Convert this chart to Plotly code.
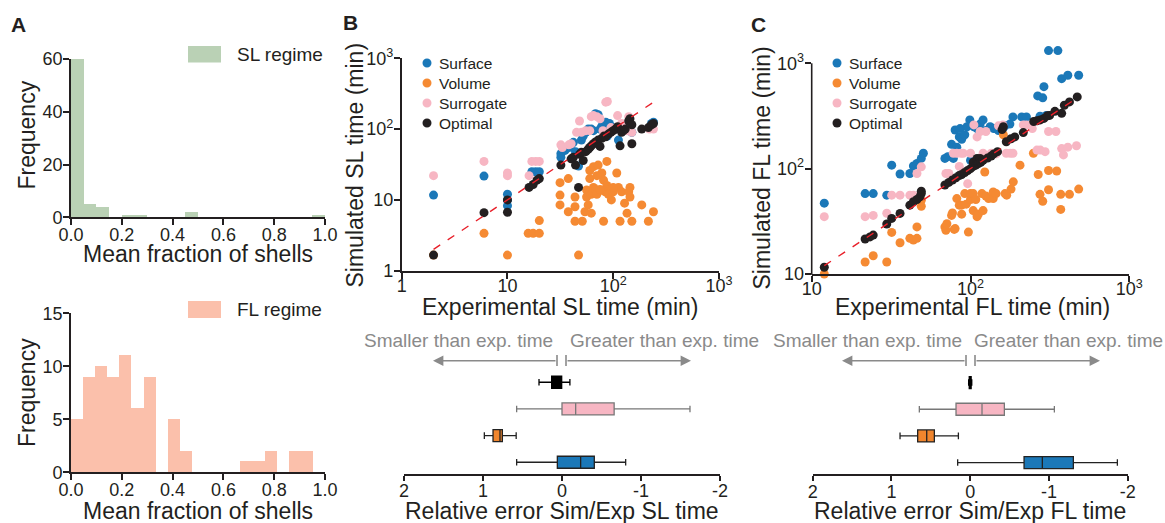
import plotly.graph_objects as go

W, H = 1165, 523
def px(x): return x / W
def py(y): return 1 - y / H

FONT = "Liberation Sans, Arial, Helvetica, sans-serif"
INK = "#231f20"
GREY = "#8a8a8a"
C_SURF = "#1b78b8"
C_VOL = "#f58a33"
C_SURR = "#f7b6c3"
C_OPT = "#231f20"
C_SL = "#bad1b5"
C_FL = "#fbc0ab"

# ---------------- Panel A data (histograms) ----------------
sl_bin_edges = [0.00, 0.05, 0.10, 0.15, 0.20, 0.25, 0.30, 0.35, 0.40, 0.45, 0.50,
                0.55, 0.60, 0.65, 0.70, 0.75, 0.80, 0.85, 0.90, 0.95, 1.00]
sl_counts = [60, 5, 4, 0, 1, 1, 0, 0, 0, 2, 0, 0, 0, 0, 0, 0, 0, 0, 0, 1]
fl_bin_edges = [0.000, 0.048, 0.095, 0.143, 0.190, 0.238, 0.286, 0.333, 0.381, 0.429, 0.476,
                0.524, 0.571, 0.619, 0.667, 0.714, 0.762, 0.810, 0.857, 0.905, 0.952]
fl_counts = [5, 9, 10, 9, 11, 6, 9, 0, 5, 2, 0, 0, 0, 0, 1, 1, 2, 0, 2, 2]

# ---------------- Panel B data (SL times, min) ----------------
sl_surface = [(2, 11.7), (6, 21.7), (10, 12), (10, 10), (10, 8.3), (17, 25), (18.5, 25), (20, 25),
              (32, 45), (32, 40), (35, 50), (38, 55), (40, 60), (42, 65), (44, 48), (47, 30),
              (50, 70), (52, 80), (55, 90), (58, 100), (62, 100), (65, 95), (68, 165), (72, 160),
              (75, 100), (78, 110), (82, 100), (85, 125), (88, 80), (92, 120), (98, 105), (105, 100),
              (112, 70), (120, 110), (135, 100), (140, 115), (150, 90), (230, 120), (240, 125)]
sl_volume = [(2, 1.66), (6, 3.37), (10, 1.66), (15.7, 3.37), (17.5, 3.37), (20, 3.37), (20, 5.1),
             (31.4, 17.5), (31.4, 11.7), (31.4, 8.5), (37.6, 20), (37.6, 6.8), (43.5, 11), (43.5, 8),
             (43.5, 5), (47, 1.66), (51, 5), (54, 6.8), (56, 11), (56, 13.8), (60, 26), (65, 29.5),
             (65, 15), (72, 31), (72, 13), (78, 24), (81, 19), (81, 5), (84, 13), (87, 35), (87, 16),
             (93, 14), (96, 10), (108, 24), (112, 15), (116, 5), (128, 9), (135, 6.5), (144, 15),
             (144, 11), (150, 5), (186, 8.5), (215, 5), (240, 6.8), (62, 12), (68, 14), (70, 12),
             (75, 14), (90, 12), (100, 13), (60, 20), (70, 22), (58, 8.5), (62, 6.5), (120, 13),
             (140, 13), (100, 15)]
sl_surrogate = [(2, 22), (6, 35), (10, 22), (10, 24), (16, 22), (17, 35), (18.5, 35), (20, 35),
                (32, 60), (33, 55), (38, 60), (40, 62), (45, 90), (48, 130), (50, 90), (55, 95),
                (60, 95), (62, 150), (65, 155), (70, 150), (75, 140), (80, 95), (85, 240), (88, 245),
                (95, 105), (105, 100), (110, 155), (120, 120), (135, 95), (140, 150), (150, 90),
                (220, 100), (230, 105), (240, 100)]
sl_optimal = [(2, 1.66), (6, 6.6), (10, 10), (10, 6.7), (16, 15), (17.5, 16.5), (19, 19), (20, 20),
              (32, 31), (40, 38), (42, 40), (44, 31), (47, 15), (48, 44), (50, 47), (52, 36),
              (55, 48), (58, 52), (60, 55), (62, 58), (65, 62), (68, 66), (72, 70), (75, 57),
              (78, 74), (82, 80), (85, 78), (90, 85), (95, 90), (100, 95), (105, 100), (110, 108),
              (116, 58), (120, 90), (125, 95), (130, 100), (140, 130), (144, 140), (150, 62),
              (150, 115), (186, 100), (215, 105), (230, 115), (240, 120)]
sl_identity = [2, 240]

# ---------------- Panel C data (FL times, min) ----------------
fl_surface = [(12, 47), (21.7, 58), (24.4, 58), (29.7, 56), (31.9, 108), (36, 89), (41.5, 90),
              (43.7, 106), (46, 112), (49, 125), (50.5, 140), (69, 125), (72, 130), (76, 170),
              (78, 125), (80, 233), (82, 160), (85, 200), (86, 240), (88, 190), (92, 210), (95, 250),
              (99, 290), (100, 120), (105, 250), (110, 240), (115, 265), (120, 290), (125, 230),
              (133, 250), (140, 240), (145, 240), (150, 230), (160, 240), (165, 255), (177, 265),
              (185, 310), (210, 310), (225, 310), (265, 490), (274, 315), (285, 470), (290, 600),
              (300, 320), (310, 1320), (355, 1320), (375, 715), (410, 770), (480, 770)]
fl_volume = [(12, 10), (21.7, 13), (24.4, 14.9), (29.7, 13), (31.9, 24.8), (36, 19.8), (41.5, 21.8),
             (43.7, 21), (46, 21.8), (46, 28), (49, 50), (49, 44), (69, 28), (70, 26), (71, 30),
             (76, 36), (77, 38), (79, 26.5), (80, 27), (82, 52), (85, 45), (88, 37), (88, 45),
             (92, 58), (94, 46), (97, 25), (100, 51), (100, 58), (104, 40), (104, 58), (108, 51),
             (110, 35), (110, 37), (112, 37), (118, 58), (120, 40), (123, 93), (125, 55), (130, 52),
             (139, 60), (139, 52), (145, 58), (161, 210), (165, 58), (169, 56), (180, 64), (186, 75),
             (205, 108), (249, 140), (267, 88), (274, 57), (285, 49), (310, 96), (310, 63), (349, 95),
             (370, 57), (370, 41), (420, 57), (480, 64)]
fl_surrogate = [(12, 35), (21.7, 35), (24.4, 36), (29.7, 37.7), (31.9, 56), (36, 56), (41.5, 56),
                (43.7, 56), (46, 90), (49, 104), (70, 90), (73, 90), (78, 140), (82, 140), (85, 105),
                (87, 140), (90, 140), (96, 72), (100, 140), (105, 260), (110, 200), (115, 225),
                (120, 140), (125, 225), (135, 140), (145, 138), (150, 255), (160, 260), (168, 140),
                (178, 140), (185, 140), (215, 260), (225, 260), (245, 240), (262, 150), (275, 150),
                (295, 145), (310, 225), (345, 225), (375, 155), (385, 135), (410, 160), (465, 165)]
fl_optimal = [(12, 11.6), (21.7, 21.5), (23.3, 22.5), (24.4, 23.4), (29.7, 29.8), (31.9, 33.7),
              (36, 37.6), (41.5, 45), (43.7, 48.5), (46, 51), (48, 54), (49, 58), (49, 61), (69, 70),
              (73, 74), (77, 78), (81, 82), (85, 86), (88, 88), (92, 92), (96, 96), (100, 100),
              (104, 115), (104, 105), (108, 108), (110, 125), (112, 112), (115, 125), (116, 115),
              (120, 120), (128, 126), (135, 132), (140, 138), (148, 145), (158, 235), (161, 250),
              (168, 180), (180, 192), (190, 200), (215, 220), (250, 280), (262, 285), (275, 290),
              (290, 300), (305, 318), (315, 320), (340, 350), (375, 335), (390, 400), (420, 430),
              (470, 480)]
fl_identity = [12, 480]

# ---------------- Box plot stats (relative error) ----------------
box_names = ["Optimal", "Surrogate", "Volume", "Surface"]
box_rows = [4, 3, 2, 1]
sl_lower = [-0.10, -1.62, 0.58, -0.806]
sl_q1 = [0.004, -0.66, 0.755, -0.409]
sl_med = [0.07, -0.173, 0.785, -0.236]
sl_q3 = [0.131, 0.0, 0.873, 0.059]
sl_upper = [0.291, 0.574, 0.983, 0.574]
fl_lower = [-0.02, -1.069, 0.150, -1.869]
fl_q1 = [-0.012, -0.434, 0.455, -1.31]
fl_med = [0.0, -0.150, 0.552, -0.916]
fl_q3 = [0.012, 0.18, 0.667, -0.684]
fl_upper = [0.02, 0.646, 0.891, 0.159]
box_fill = ["#000000", "#f7b6c3", "#f0852d", "#1b78b8"]
box_edge = ["#000000", "#777777", "#222222", "#222222"]

err_ticks = [2, 1, 0, -1, -2]
err_ticktext = ["2", "1", "0", "-1", "-2"]

fig = go.Figure()

def bar_geom(edges):
    centers = [(a + b) / 2 for a, b in zip(edges[:-1], edges[1:])]
    widths = [b - a for a, b in zip(edges[:-1], edges[1:])]
    return centers, widths

c, w = bar_geom(sl_bin_edges)
fig.add_trace(go.Bar(x=c, y=sl_counts, width=w, marker=dict(color=C_SL, line=dict(width=0)),
                     xaxis="x", yaxis="y", showlegend=False, name="SL regime"))
c, w = bar_geom(fl_bin_edges)
fig.add_trace(go.Bar(x=c, y=fl_counts, width=w, marker=dict(color=C_FL, line=dict(width=0)),
                     xaxis="x2", yaxis="y2", showlegend=False, name="FL regime"))

series_b = [("Surface", sl_surface, C_SURF), ("Volume", sl_volume, C_VOL),
            ("Surrogate", sl_surrogate, C_SURR), ("Optimal", sl_optimal, C_OPT)]
series_c = [("Surface", fl_surface, C_SURF), ("Volume", fl_volume, C_VOL),
            ("Surrogate", fl_surrogate, C_SURR), ("Optimal", fl_optimal, C_OPT)]
for (name, pts, col) in series_b:
    fig.add_trace(go.Scatter(x=[p[0] for p in pts], y=[p[1] for p in pts], mode="markers", name=name,
                             marker=dict(color=col, size=9, line=dict(width=0)),
                             xaxis="x3", yaxis="y3", showlegend=False, cliponaxis=False))
fig.add_trace(go.Scatter(x=sl_identity, y=sl_identity, mode="lines",
                         line=dict(color="#e8202a", width=1.4, dash="8px,9px"),
                         xaxis="x3", yaxis="y3", showlegend=False))
for (name, pts, col) in series_c:
    fig.add_trace(go.Scatter(x=[p[0] for p in pts], y=[p[1] for p in pts], mode="markers", name=name,
                             marker=dict(color=col, size=9, line=dict(width=0)),
                             xaxis="x4", yaxis="y4", showlegend=False, cliponaxis=False))
fig.add_trace(go.Scatter(x=fl_identity, y=fl_identity, mode="lines",
                         line=dict(color="#e8202a", width=1.4, dash="8px,9px"),
                         xaxis="x4", yaxis="y4", showlegend=False))

for i in range(4):
    fig.add_trace(go.Box(y=[box_rows[i]], q1=[sl_q1[i]], median=[sl_med[i]], q3=[sl_q3[i]],
                         lowerfence=[sl_lower[i]], upperfence=[sl_upper[i]], orientation="h",
                         name=box_names[i], fillcolor=box_fill[i],
                         line=dict(color=box_edge[i], width=1.3), width=0.45, whiskerwidth=0.55,
                         boxpoints=False, xaxis="x5", yaxis="y5", showlegend=False))
    fig.add_trace(go.Box(y=[box_rows[i]], q1=[fl_q1[i]], median=[fl_med[i]], q3=[fl_q3[i]],
                         lowerfence=[fl_lower[i]], upperfence=[fl_upper[i]], orientation="h",
                         name=box_names[i], fillcolor=box_fill[i],
                         line=dict(color=box_edge[i], width=1.3), width=0.45, whiskerwidth=0.55,
                         boxpoints=False, xaxis="x6", yaxis="y6", showlegend=False))

def ax(**kw):
    d = dict(showline=True, linecolor=INK, linewidth=1.6, ticks="outside", ticklen=6, tickwidth=1.6,
             tickcolor=INK, showgrid=False, zeroline=False, automargin=False,
             tickfont=dict(size=18, color=INK, family=FONT))
    d.update(kw)
    return d

XSO = -6   # x tick labels sit closer to the axis
LSO = -8   # log x tick labels (with superscripts)
YSO = -3   # y tick labels sit closer to the axis

log_vals = [1, 10, 100, 1000]
log_text = ["1", "10", "10<sup>2</sup>", "10<sup>3</sup>"]

# C y-axis range reaches a little above 10^3 so the two highest points show;
# its spine is drawn separately from 10 to 10^3.
C_Y_TOP = 3.2
c_dec = (274 - 63.3) / 2.0

layout = dict(
    width=W, height=H, autosize=False,
    margin=dict(l=0, r=0, t=0, b=0, pad=0),
    paper_bgcolor="white", plot_bgcolor="white",
    font=dict(family=FONT, color=INK, size=18),
    bargap=0, boxmode="overlay", showlegend=False,
    xaxis=ax(domain=[px(71), px(325)], range=[0, 1], anchor="y", ticklabelstandoff=XSO,
             tickvals=[0, 0.2, 0.4, 0.6, 0.8, 1.0], tickformat=".1f"),
    yaxis=ax(domain=[py(217.3), py(59)], range=[0, 60], anchor="x", ticklabelstandoff=YSO,
             tickvals=[0, 20, 40, 60]),
    xaxis2=ax(domain=[px(71), px(325)], range=[0, 1], anchor="y2", ticklabelstandoff=XSO,
              tickvals=[0, 0.2, 0.4, 0.6, 0.8, 1.0], tickformat=".1f"),
    yaxis2=ax(domain=[py(472.3), py(313.3)], range=[0, 15], anchor="x2", ticklabelstandoff=YSO,
              tickvals=[0, 5, 10, 15]),
    xaxis3=ax(type="log", domain=[px(401.7), px(719)], range=[0, 3], anchor="y3",
              ticklabelstandoff=LSO, tickvals=log_vals, ticktext=log_text),
    yaxis3=ax(type="log", domain=[py(270.7), py(58.3)], range=[0, 3], anchor="x3",
              ticklabelstandoff=YSO, tickvals=log_vals, ticktext=log_text),
    xaxis4=ax(type="log", domain=[px(811.7), px(1129.3)], range=[1, 3], anchor="y4",
              ticklabelstandoff=LSO, tickvals=log_vals[1:], ticktext=log_text[1:]),
    yaxis4=ax(type="log", domain=[py(274), py(63.3 - (C_Y_TOP - 3) * c_dec)], range=[1, C_Y_TOP],
              anchor="x4", showline=False, ticklabelstandoff=YSO,
              tickvals=log_vals[1:], ticktext=log_text[1:]),
    xaxis5=ax(domain=[px(404), px(720)], range=[2, -2], anchor="y5", ticklen=5,
              ticklabelstandoff=-5, tickvals=err_ticks, ticktext=err_ticktext),
    yaxis5=dict(domain=[py(474), py(370)], range=[0.56, 4.46], anchor="x5", visible=False),
    xaxis6=ax(domain=[px(812.7), px(1127.7)], range=[2, -2], anchor="y6", ticklen=5,
              ticklabelstandoff=-5, tickvals=err_ticks, ticktext=err_ticktext),
    yaxis6=dict(domain=[py(474.3), py(370.3)], range=[0.56, 4.46], anchor="x6", visible=False),
)
fig.update_layout(**layout)

ann = []
shapes = []

def text(t, x, y, size=23, color=INK, xanchor="center", angle=0):
    ann.append(dict(text=t, x=px(x), y=py(y), xref="paper", yref="paper", xanchor=xanchor,
                    yanchor="middle", showarrow=False, textangle=angle,
                    font=dict(size=size, color=color, family=FONT)))

# axis titles
text("Mean fraction of shells", 198, 254)
text("Mean fraction of shells", 198, 511)
text("Frequency", 26.5, 135, angle=-90)
text("Frequency", 26.5, 392.5, angle=-90)
text("Experimental SL time (min)", 560.5, 307)
text("Simulated SL time (min)", 354, 165.5, angle=-90)
text("Experimental FL time (min)", 972.5, 307)
text("Simulated FL time (min)", 761, 168.5, angle=-90)
text("Relative error Sim/Exp SL time", 561.5, 511)
text("Relative error Sim/Exp FL time", 970, 511)

# panel letters
for letter, x, y in [("A", 18.5, 24.5), ("B", 350, 22.5), ("C", 758, 24)]:
    text(f"<b>{letter}</b>", x, y, size=21)

# histogram legends
for label, col, ytop, ybot in [("SL regime", C_SL, 46, 62.5), ("FL regime", C_FL, 301, 318)]:
    shapes.append(dict(type="rect", xref="paper", yref="paper", x0=px(188), x1=px(221),
                       y0=py(ybot), y1=py(ytop), fillcolor=col, line=dict(width=0)))
    text(label, 235, (ytop + ybot) / 2, size=19, xanchor="left")

# scatter legends (dot + label)
legend_rows = [63, 83, 103, 123]
R = 4.5
for x_dot, series in [(427, series_b), (837, series_c)]:
    for yrow, (name, _, col) in zip(legend_rows, series):
        shapes.append(dict(type="circle", xref="paper", yref="paper",
                           x0=px(x_dot - R), x1=px(x_dot + R), y0=py(yrow + R), y1=py(yrow - R),
                           fillcolor=col, line=dict(width=0)))
        text(name, x_dot + 10, yrow, size=15.5, xanchor="left")

# C y-axis spine (10 .. 10^3)
shapes.append(dict(type="line", xref="paper", yref="paper", x0=px(811.7), x1=px(811.7),
                   y0=py(274.8), y1=py(63.3), line=dict(color=INK, width=1.6)))

# direction hints above box plots
for (sx, gx, lhead, ltail, rtail, rhead) in [(555, 568, 433, 557, 566, 691),
                                             (964, 972, 842, 966, 975, 1100)]:
    text("Smaller than exp. time", sx, 340, size=19, color=GREY, xanchor="right")
    text("Greater than exp. time", gx, 340, size=19, color=GREY, xanchor="left")
    for head, tail in [(lhead, ltail), (rhead, rtail)]:
        ann.append(dict(text="", x=px(head), y=py(360.7), xref="paper", yref="paper", showarrow=True,
                        ax=tail - head, ay=0, arrowhead=2, arrowsize=1.3, arrowwidth=1.6,
                        arrowcolor=GREY, standoff=0, startstandoff=0))
    for xv in (ltail, rtail):
        shapes.append(dict(type="line", xref="paper", yref="paper", x0=px(xv), x1=px(xv),
                           y0=py(366), y1=py(355), line=dict(color=GREY, width=1.6)))

fig.update_layout(annotations=ann, shapes=shapes)

fig.write_html("out.html", config={"displayModeBar": False},
               post_script="document.body.style.margin='0px';")
